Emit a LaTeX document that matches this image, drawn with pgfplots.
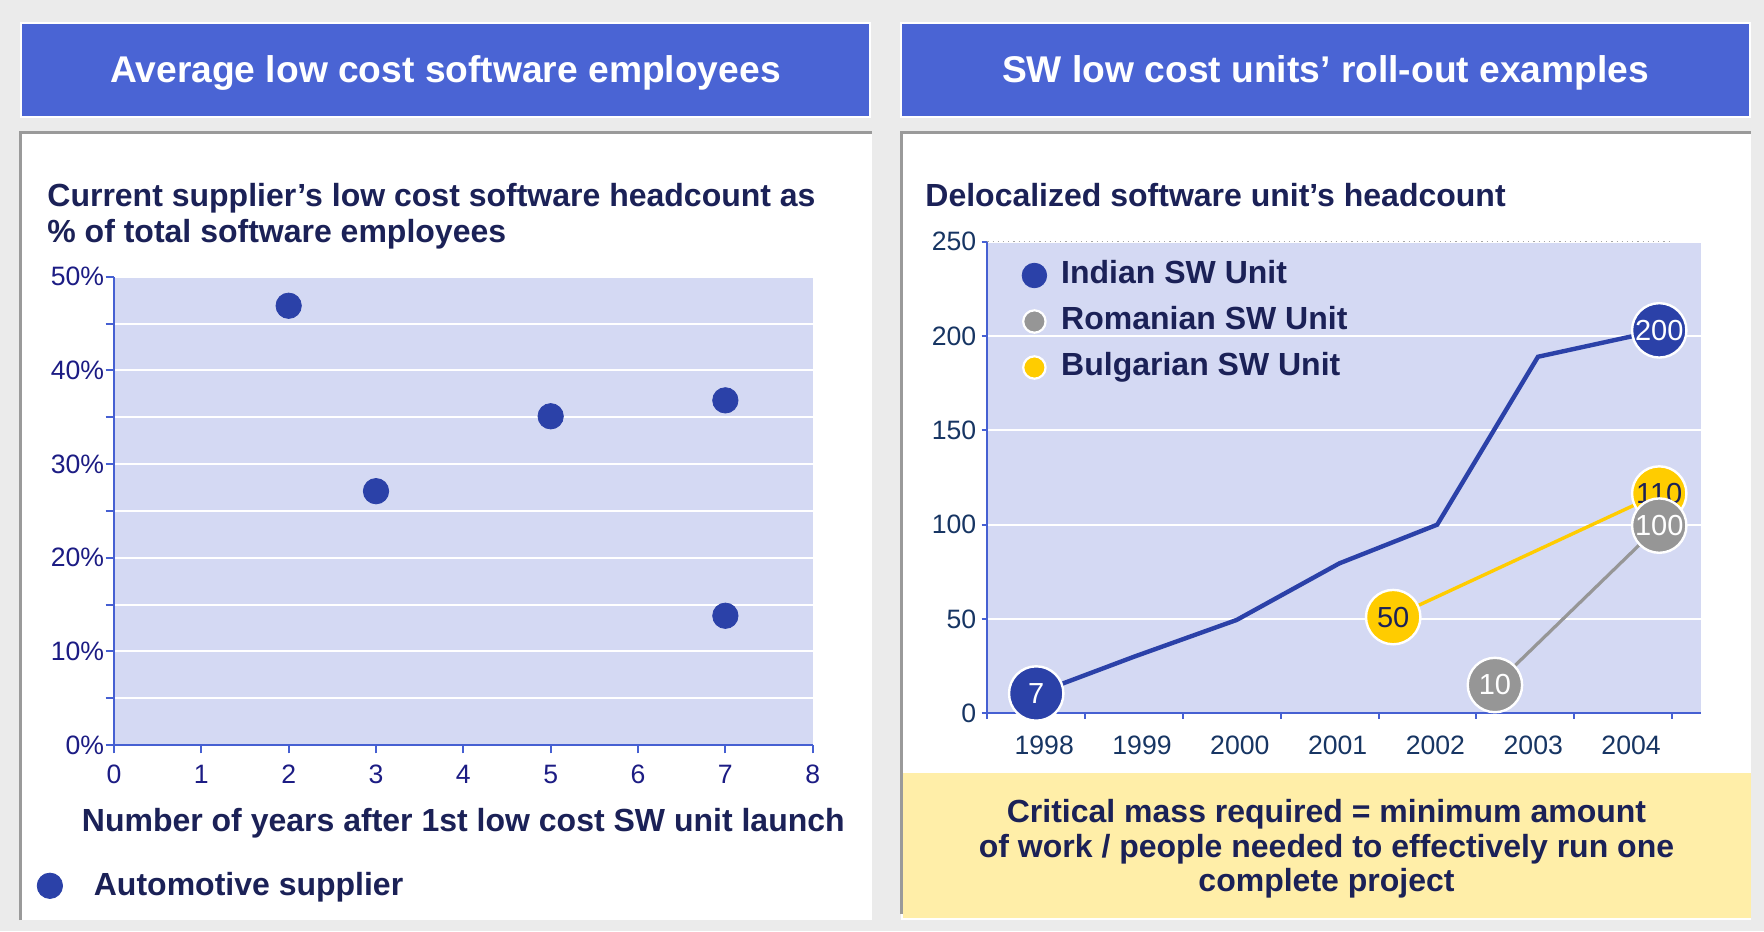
\documentclass[border=0pt]{standalone}
\usepackage{fontspec}
\setmainfont{Liberation Sans}
\usepackage{pgfplots}
\pgfplotsset{compat=1.18}

\definecolor{bggray}{HTML}{EBEBEB}
\definecolor{hblue}{HTML}{4A64D4}
\definecolor{navy}{HTML}{1B2157}
\definecolor{plotbg}{HTML}{D4D9F3}
\definecolor{axisblue}{HTML}{4660D2}
\definecolor{dotblue}{HTML}{2B41A8}
\definecolor{mgray}{HTML}{969696}
\definecolor{myellow}{HTML}{FFCC00}
\definecolor{ybox}{HTML}{FFEEA8}
\definecolor{tickL}{HTML}{1C1C84}
\definecolor{tickR}{HTML}{173563}
\definecolor{pborder}{HTML}{9A9A9A}

\newcommand\hfont{\fontsize{18.6pt}{22pt}\selectfont\bfseries}
\newcommand\sfont{\fontsize{16pt}{19pt}\selectfont\bfseries}
\newcommand\tfont{\fontsize{13.3pt}{15pt}\selectfont}
\newcommand\cfont{\fontsize{14.5pt}{16pt}\selectfont}

\begin{document}
\begin{tikzpicture}[x=0.5pt,y=-0.5pt]
% background
\fill[bggray] (0,0) rectangle (1764,931);
% headers
\filldraw[fill=hblue, draw=white, line width=1pt] (21,22.7) rectangle (870,117.3);
\filldraw[fill=hblue, draw=white, line width=1pt] (901,22.7) rectangle (1750,117.3);
\node[anchor=base, text=white, font=\hfont, inner sep=0pt] at (445.5,82.5) {Average low cost software employees};
\node[anchor=base, text=white, font=\hfont, inner sep=0pt] at (1325.5,82.5) {SW low cost units’ roll-out examples};
% panels
\fill[white] (20,132) rectangle (872,920);
\fill[white] (901,132) rectangle (1751,920);
\draw[pborder, line width=1.5pt] (20.5,920) -- (20.5,132.5) -- (872,132.5);
\draw[pborder, line width=1.5pt] (901.5,914) -- (901.5,132.5) -- (1751,132.5);
\fill[ybox] (902.5,773) rectangle (1751,918);
% subtitles
\node[anchor=base west, text=navy, font=\sfont, inner sep=0pt] at (47,206) {Current supplier’s low cost software headcount as};
\node[anchor=base west, text=navy, font=\sfont, inner sep=0pt] at (47,242) {\% of total software employees};
\node[anchor=base west, text=navy, font=\sfont, inner sep=0pt] at (925,206) {Delocalized software unit’s headcount};
% yellow box text
\node[anchor=base, text=navy, font=\sfont, inner sep=0pt] at (1326.5,822.5) {Critical mass required = minimum amount};
\node[anchor=base, text=navy, font=\sfont, inner sep=0pt] at (1326.5,857.5) {of work / people needed to effectively run one};
\node[anchor=base, text=navy, font=\sfont, inner sep=0pt] at (1326.5,891.5) {complete project};

\coordinate (LA) at (114,745);
\coordinate (RA) at (987.3,713.3);

% ---------------- left chart ----------------
\begin{axis}[
  at={(LA)}, anchor=south west, scale only axis,
  width=349.35pt, height=234.15pt,
  xmin=0, xmax=8, ymin=0, ymax=50,
  axis lines*=left,
  axis line style={-, draw=axisblue, line width=1pt},
  axis background/.style={fill=plotbg},
  xtick={0,...,8},
  ytick={0,10,...,50},
  minor ytick={5,15,...,45},
  tick align=outside,
  major tick length=4.2pt, minor tick length=4.2pt,
  tick style={draw=axisblue, line width=1pt},
  ymajorgrids, yminorgrids,
  major grid style={white, line width=1pt},
  minor grid style={white, line width=1pt},
  /pgf/number format/assume math mode=true,
  ticklabel style={font=\tfont, text=tickL},
  xticklabel style={yshift=-2.2pt},
  yticklabel style={xshift=2.8pt},
  yticklabel={\pgfmathprintnumber{\tick}\%},
  xlabel={Number of years after 1st low cost SW unit launch},
  xlabel style={font=\sfont, text=navy, at={(axis description cs:0.5,0)}, anchor=base, yshift=-43.3pt, inner sep=0pt},
  legend style={at={(axis description cs:-0.1105,-0.3006)}, anchor=west, draw=none, fill=none, inner sep=0pt, column sep=0pt, font=\sfont, text=navy, nodes={inner sep=0pt}},
  legend cell align=left,
  legend image code/.code={\draw[#1] plot coordinates {(0pt,0pt)}; \path[draw=none, fill=none] (0pt,-0.5pt) rectangle (22pt,0.5pt);},
  clip=false,
]
\addplot[only marks, mark=*, mark size=6.35pt, color=dotblue, mark options={fill=dotblue, draw=dotblue}]
  coordinates {(2,46.9) (3,27.1) (5,35.1) (7,36.8) (7,13.8)};
\addlegendentry{Automotive supplier}
\end{axis}

% ---------------- right chart ----------------
\begin{axis}[
  at={(RA)}, anchor=south west, scale only axis,
  width=356.85pt, height=235.8pt,
  xmin=1997.5, xmax=2004.797, ymin=0, ymax=250,
  axis lines*=left,
  axis line style={-, draw=axisblue, line width=1pt},
  axis background/.style={fill=plotbg},
  xtick={1997.5,1998.5,...,2004.5},
  xticklabels={},
  extra x ticks={1998,1999,2000,2001,2002,2003,2004},
  extra x tick labels={1998,1999,2000,2001,2002,2003,2004},
  extra x tick style={major tick length=0pt, grid=none, xticklabel style={xshift=4pt, yshift=-8pt}},
  ytick={0,50,...,250},
  tick align=outside,
  major tick length=2.8pt,
  tick style={draw=axisblue, line width=1pt},
  ymajorgrids,
  major grid style={white, line width=1pt},
  /pgf/number format/assume math mode=true,
  /pgf/number format/1000 sep={},
  ticklabel style={font=\tfont, text=tickR},
  yticklabel style={xshift=0.8pt},
  legend style={at={(axis description cs:0.0482,0.961)}, anchor=north west, draw=none, fill=none, inner sep=0pt, column sep=0pt, row sep=8pt, font=\sfont, text=navy, nodes={inner sep=0pt, text height=11.6pt, text depth=3.4pt}},
  legend cell align=left,
  legend image code/.code={\draw[#1] plot coordinates {(0pt,0pt)}; \path[draw=none, fill=none] (0pt,-0.5pt) rectangle (13.4pt,0.5pt);},
  clip=false,
]
\addlegendimage{only marks, mark=*, mark size=6.15pt, mark options={fill=dotblue, draw=dotblue}}
\addlegendentry{Indian SW Unit}
\addlegendimage{only marks, mark=*, mark size=5.6pt, mark options={fill=mgray, draw=white, line width=1.1pt}}
\addlegendentry{Romanian SW Unit}
\addlegendimage{only marks, mark=*, mark size=5.6pt, mark options={fill=myellow, draw=white, line width=1.1pt}}
\addlegendentry{Bulgarian SW Unit}
% dotted top line
\addplot[draw=gray!70, dotted, line width=0.6pt, forget plot] coordinates {(1997.5,250) (2004.5,250)};
% lines
\addplot[dotblue, line width=2.2pt, forget plot] coordinates {(1998,10.5) (1999,30) (2000.05,49.5) (2001.1,79.5) (2002.1,100) (2003.13,189) (2004.37,203)};
\addplot[myellow, line width=1.7pt, forget plot] coordinates {(2001.65,51) (2004.37,116.5)};
\addplot[mgray, line width=1.6pt, forget plot] coordinates {(2002.69,15) (2004.37,99.5)};
% circles
\addplot[only marks, mark=*, mark size=13.6pt, mark options={fill=dotblue, draw=white, line width=1.2pt},
  point meta=explicit symbolic, nodes near coords,
  every node near coord/.append style={anchor=center, text=white, font=\cfont, inner sep=0pt}, forget plot]
  coordinates {(1998,10.5)[7] (2004.37,203)[200]};
\addplot[only marks, mark=*, mark size=13.6pt, mark options={fill=myellow, draw=white, line width=1.2pt},
  point meta=explicit symbolic, nodes near coords,
  every node near coord/.append style={anchor=center, text=navy, font=\cfont, inner sep=0pt}, forget plot]
  coordinates {(2001.65,51)[50] (2004.37,116.5)[110]};
\addplot[only marks, mark=*, mark size=13.6pt, mark options={fill=mgray, draw=white, line width=1.2pt},
  point meta=explicit symbolic, nodes near coords,
  every node near coord/.append style={anchor=center, text=white, font=\cfont, inner sep=0pt}, forget plot]
  coordinates {(2002.69,15)[10] (2004.37,99.5)[100]};
\end{axis}
\end{tikzpicture}
\end{document}
